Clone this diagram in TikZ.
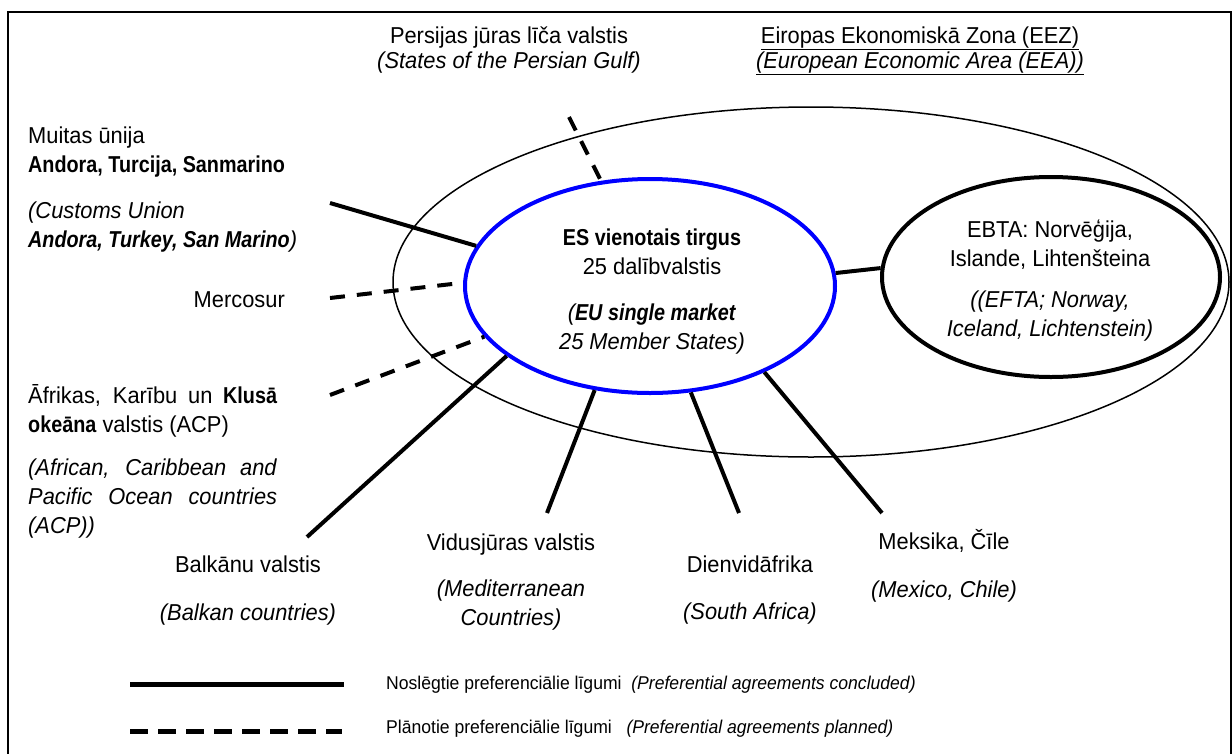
\documentclass[tikz,border=0pt]{standalone}
\usepackage{fontspec}
\setmainfont{Liberation Sans}[FakeStretch=0.95,
  BoldFeatures={FakeStretch=0.86}, BoldItalicFeatures={FakeStretch=0.86}]
\usetikzlibrary{shapes.geometric}

\tikzset{
  lbl/.style={inner sep=0pt, align=center, font=\fontsize{23}{29}\selectfont},
  legtxt/.style={inner sep=0pt, anchor=base west, font=\fontsize{18.5}{23}\selectfont},
  agreed/.style={line width=4pt},
  planned/.style={line width=4pt, dash pattern=on 15pt off 12pt},
  zone/.style={ellipse, draw, inner sep=0pt},
}

\begin{document}
\begin{tikzpicture}[x=1pt, y=-1pt]
    \useasboundingbox (0,0) rectangle (1232,753);
    \clip (0,0) rectangle (1232,753);
    % ramis
    \draw[line width=2pt] (1231,800) -- (1231,12) -- (8,12) -- (8,800);

    % zonas
    \node[zone, line width=1.5pt, minimum width=836pt, minimum height=350pt] (eez) at (811,282) {};
    \node[zone, draw=blue, line width=4pt, minimum width=370pt, minimum height=214pt] (eu) at (650,286) {};
    \node[zone, line width=4pt, minimum width=338pt, minimum height=200pt] (efta) at (1051,277) {};

    % teksti zonās (base = pēdējā rinda)
    \node[lbl, anchor=base] (eutxt) at (652,349) {\textbf{ES vienotais tirgus}\\25 dalībvalstis\\[17pt]\textit{(\textbf{EU single market}}\\\textit{25 Member States)}};
    \node[lbl, anchor=base] (eftatxt) at (1050,336) {EBTA: Norvēģija,\\Islande, Lihtenšteina\\[12pt]\textit{((EFTA; Norway,}\\\textit{Iceland, Lichtenstein)}};

    % virsraksti
    \node[lbl, anchor=base] (gulf) at (509,68) {Persijas jūras līča valstis\\[-4pt]\textit{(States of the Persian Gulf)}};
    \node[lbl, anchor=base] (eeztxt) at (920,68) {\underline{Eiropas Ekonomiskā Zona (EEZ)}\\[-4pt]\underline{\textit{(European Economic Area (EEA))}}};

    % kreisā puse
    \node[lbl, anchor=base west, align=left] (customs) at (28,247) {Muitas ūnija\\\textbf{Andora, Turcija, Sanmarino}\\[17pt]\textit{(Customs Union}\\\textit{\textbf{Andora, Turkey, San Marino})}};
    \node[lbl, anchor=base east] (mercosur) at (285,307) {Mercosur};
    \node[lbl, anchor=base west, align=left] (acp) at (28,533) {\makebox[249pt][s]{Āfrikas, Karību un \textbf{Klusā}}\\\textbf{okeāna} valstis (ACP)\\[14pt]\makebox[249pt][s]{\textit{(African, Caribbean and}}\\\makebox[249pt][s]{\textit{Pacific Ocean countries}}\\\textit{(ACP))}};

    % apakšā
    \node[lbl, anchor=base] (balkan) at (248,620) {Balkānu valstis\\[19pt]\textit{(Balkan countries)}};
    \node[lbl, anchor=base] (med) at (511,625) {Vidusjūras valstis\\[17pt]\textit{(Mediterranean}\\\textit{Countries)}};
    \node[lbl, anchor=base] (rsa) at (750,619) {Dienvidāfrika\\[18pt]\textit{(South Africa)}};
    \node[lbl, anchor=base] (mexchile) at (944,597) {Meksika, Čīle\\[19pt]\textit{(Mexico, Chile)}};

    % līniju brīvie gali
    \coordinate (gulfend) at (569,117);
    \coordinate (customsend) at (330,203);
    \coordinate (mercend) at (330,298);
    \coordinate (acpend) at (330,395);
    \coordinate (balkend) at (307,537);
    \coordinate (medend) at (547,513);
    \coordinate (rsaend) at (739,513);
    \coordinate (mexend) at (882,513);

    % līgumi
    \draw[planned] (gulfend) -- (eu.115);
    \draw[agreed] (customsend) -- (eu.167);
    \draw[planned] (mercend) -- (eu.179);
    \draw[planned] (acpend) -- (eu.197);
    \draw[agreed] (balkend) -- (eu.206);
    \draw[agreed] (medend) -- (eu.242);
    \draw[agreed] (rsaend) -- (eu.291);
    \draw[agreed] (mexend) -- (eu.323);
    \draw[agreed] (eu.4) -- (efta.177);

    % leģenda
    \coordinate (legAa) at (130,684);
    \coordinate (legAb) at (344,684);
    \coordinate (legBa) at (130,731);
    \coordinate (legBb) at (342,731);
    \draw[line width=5pt] (legAa) -- (legAb);
    \draw[line width=5pt, dash pattern=on 18.3pt off 9.7pt] (legBa) -- (legBb);
    \node[legtxt] (legagreed) at (386,689) {Noslēgtie preferenciālie līgumi\ \ \textit{(Preferential agreements concluded)}};
    \node[legtxt] (legplanned) at (386,733) {Plānotie preferenciālie līgumi\ \ \ \textit{(Preferential agreements planned)}};
\end{tikzpicture}
\end{document}
